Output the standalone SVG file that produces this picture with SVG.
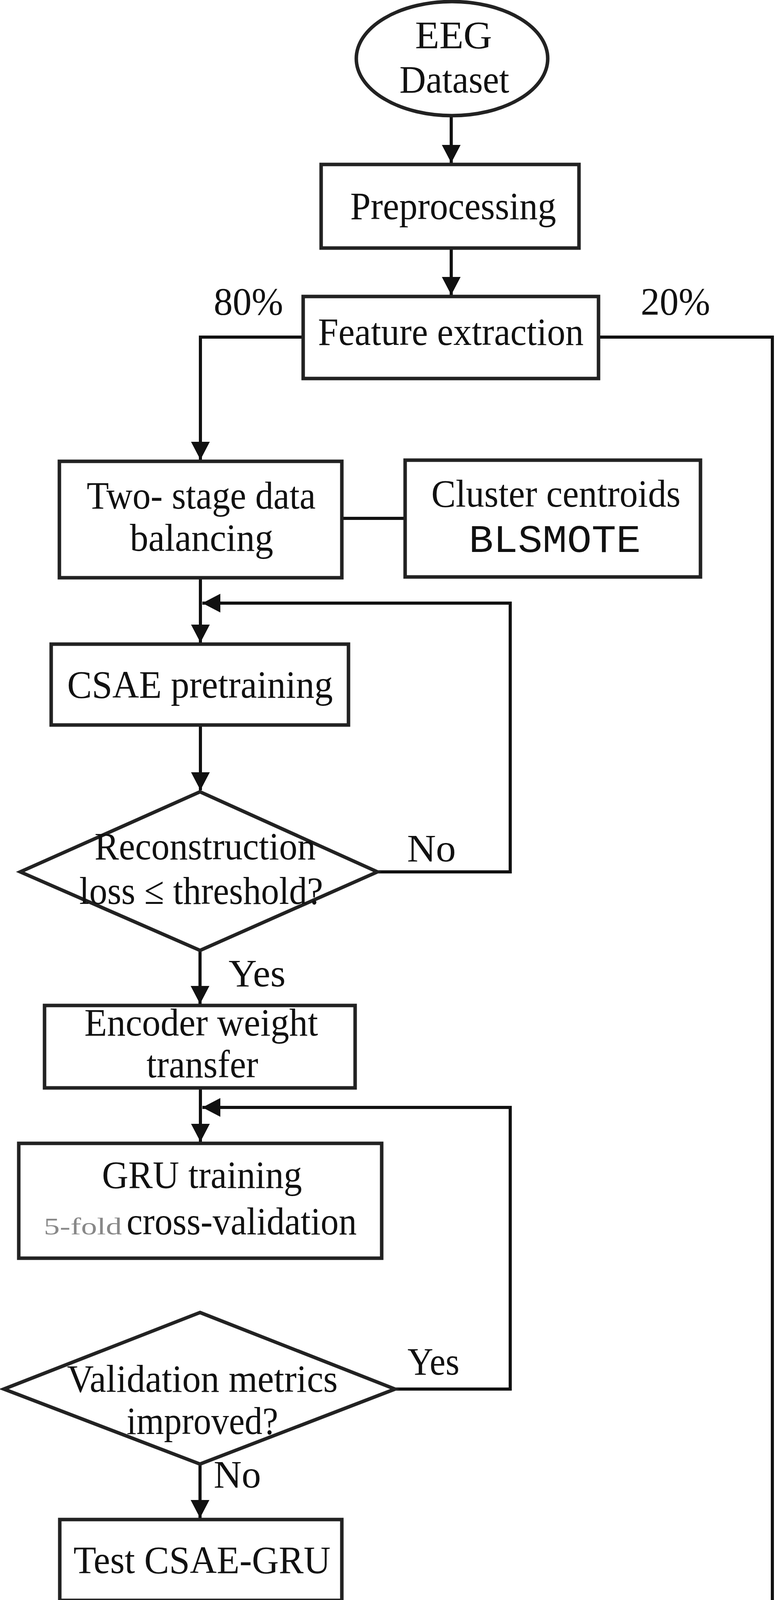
<svg xmlns="http://www.w3.org/2000/svg" width="1994" height="4463" viewBox="0 0 1994 4463">
<style>
.shape{fill:#fff;stroke:#222;stroke-width:9}
.conn{fill:none;stroke:#111;stroke-width:8}
.t{font-family:"Liberation Serif","Times New Roman",serif;font-size:100px;fill:#111;text-anchor:middle}
.lbl{font-family:"Liberation Serif","Times New Roman",serif;font-size:100px;fill:#111}
.mono{font-family:"Liberation Mono","Courier New",monospace;font-size:100px;fill:#111;text-anchor:middle}
.small{font-family:"Liberation Serif","Times New Roman",serif;font-size:62px;fill:#888}
</style>
<defs>
<marker id="arr" markerUnits="userSpaceOnUse" markerWidth="48" markerHeight="50" refX="46" refY="24" orient="auto">
<path d="M0,0 L46,24 L0,48 Z" fill="#111"/>
</marker>
</defs>
<rect width="1994" height="4463" fill="#fff"/>
<g id="connectors">
<path class="conn" d="M1155 296 V417" marker-end="url(#arr)"/>
<path class="conn" d="M1155 635 V755" marker-end="url(#arr)"/>
<path class="conn" d="M776 863 H513 V1177" marker-end="url(#arr)"/>
<path class="conn" d="M875 1327 H1037"/>
<path class="conn" d="M513 1481 V1645" marker-end="url(#arr)"/>
<path class="conn" d="M513 1856 V2023" marker-end="url(#arr)"/>
<path class="conn" d="M966 2232 H1306 V1544 H518" marker-end="url(#arr)"/>
<path class="conn" d="M512 2433 V2570" marker-end="url(#arr)"/>
<path class="conn" d="M513 2785 V2923" marker-end="url(#arr)"/>
<path class="conn" d="M1011 3556 H1306 V2835 H518" marker-end="url(#arr)"/>
<path class="conn" d="M512 3749 V3886" marker-end="url(#arr)"/>
<path class="conn" d="M513 4097 V4234" marker-end="url(#arr)"/>
<path class="conn" d="M1532 863 H1977 V4160 H518" marker-end="url(#arr)"/>
</g>
<g id="labels">
<text class="lbl" x="547" y="805" textLength="178" lengthAdjust="spacingAndGlyphs">80%</text>
<text class="lbl" x="1640" y="805" textLength="178" lengthAdjust="spacingAndGlyphs">20%</text>
<text class="lbl" x="1042" y="2205" textLength="125" lengthAdjust="spacingAndGlyphs">No</text>
<text class="lbl" x="585" y="2525" textLength="146" lengthAdjust="spacingAndGlyphs">Yes</text>
<text class="lbl" x="1043" y="3519" textLength="133" lengthAdjust="spacingAndGlyphs">Yes</text>
<text class="lbl" x="547" y="3808" textLength="121" lengthAdjust="spacingAndGlyphs">No</text>
</g>
<g id="eeg-dataset">
<ellipse class="shape" cx="1157" cy="150" rx="245" ry="146"/>
<text class="t" x="1161" y="123" font-size="105" textLength="197" lengthAdjust="spacingAndGlyphs">EEG</text>
<text class="t" x="1163" y="237" font-size="105" textLength="281" lengthAdjust="spacingAndGlyphs">Dataset</text>
</g>
<g id="preprocessing">
<rect class="shape" x="822" y="421" width="660" height="214"/>
<text class="t" x="1160" y="561" font-size="105" textLength="527" lengthAdjust="spacingAndGlyphs">Preprocessing</text>
</g>
<g id="feature-extraction">
<rect class="shape" x="776" y="759" width="756" height="210"/>
<text class="t" x="1154" y="883" textLength="680" lengthAdjust="spacingAndGlyphs">Feature extraction</text>
</g>
<g id="two-stage">
<rect class="shape" x="152" y="1181" width="723" height="298"/>
<text class="t" x="515" y="1302" textLength="586" lengthAdjust="spacingAndGlyphs">Two- stage data</text>
<text class="t" x="516" y="1410" textLength="367" lengthAdjust="spacingAndGlyphs">balancing</text>
</g>
<g id="cluster">
<rect class="shape" x="1037" y="1178" width="756" height="299"/>
<text class="t" x="1423" y="1297" textLength="638" lengthAdjust="spacingAndGlyphs">Cluster centroids</text>
<text class="mono" x="1420" y="1413" textLength="440" lengthAdjust="spacingAndGlyphs">BLSMOTE</text>
</g>
<g id="csae-pretraining">
<rect class="shape" x="131" y="1649" width="761" height="207"/>
<text class="t" x="512" y="1786" textLength="680" lengthAdjust="spacingAndGlyphs">CSAE pretraining</text>
</g>
<g id="reconstruction-decision">
<polygon class="shape" points="512,2027 966,2232 512,2433 52,2232"/>
<text class="t" x="525" y="2200" font-size="94" textLength="566" lengthAdjust="spacingAndGlyphs">Reconstruction</text>
<text class="t" x="515" y="2314" font-size="94" textLength="624" lengthAdjust="spacingAndGlyphs">loss ≤ threshold?</text>
</g>
<g id="encoder-transfer">
<rect class="shape" x="114" y="2574" width="795" height="211"/>
<text class="t" x="515" y="2651" font-size="95" textLength="598" lengthAdjust="spacingAndGlyphs">Encoder weight</text>
<text class="t" x="518" y="2758" font-size="95" textLength="286" lengthAdjust="spacingAndGlyphs">transfer</text>
</g>
<g id="gru-training">
<rect class="shape" x="48" y="2927" width="929" height="294"/>
<text class="t" x="517" y="3041" textLength="512" lengthAdjust="spacingAndGlyphs">GRU training</text>
<text class="small" x="112" y="3160" textLength="200" lengthAdjust="spacingAndGlyphs">5-fold</text>
<text class="lbl" x="324" y="3160" textLength="589" lengthAdjust="spacingAndGlyphs">cross-validation</text>
</g>
<g id="validation-decision">
<polygon class="shape" points="512,3360 1011,3556 512,3748 10,3556"/>
<text class="t" x="518" y="3563" textLength="693" lengthAdjust="spacingAndGlyphs">Validation metrics</text>
<text class="t" x="518" y="3671" textLength="388" lengthAdjust="spacingAndGlyphs">improved?</text>
</g>
<g id="test-csae-gru">
<rect class="shape" x="153" y="3890" width="722" height="207"/>
<text class="t" x="517" y="4027" textLength="658" lengthAdjust="spacingAndGlyphs">Test CSAE-GRU</text>
</g>
<g id="evaluate-model">
<rect class="shape" x="155" y="4238" width="720" height="210"/>
<text class="t" x="520" y="4368" textLength="588" lengthAdjust="spacingAndGlyphs">Evaluate model</text>
</g>
</svg>
